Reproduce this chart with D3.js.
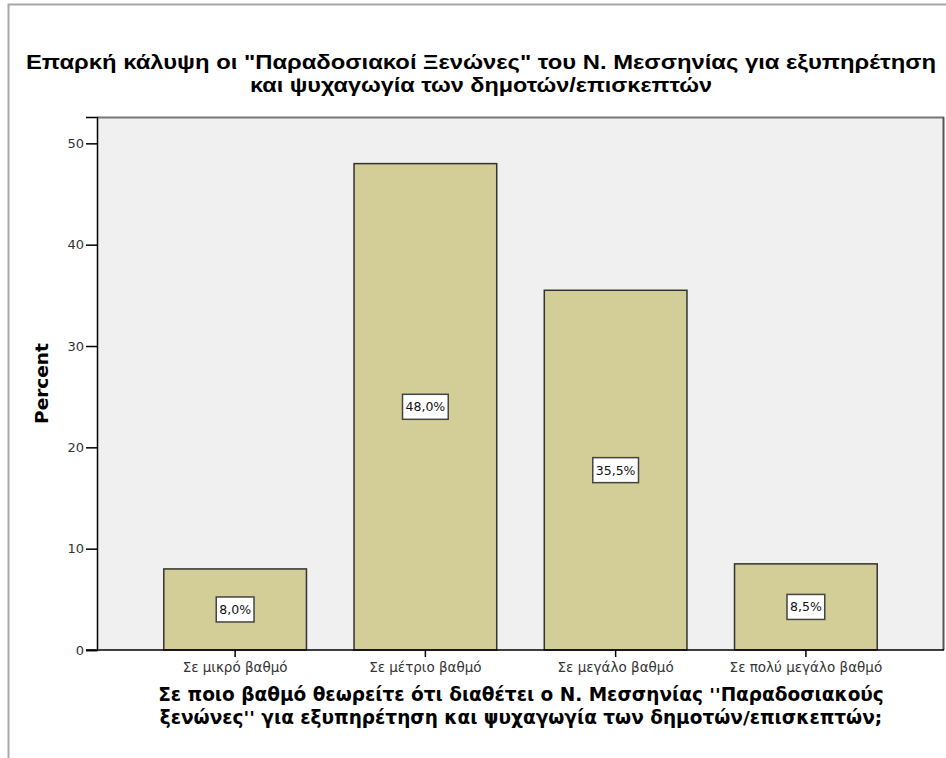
<!DOCTYPE html>
<html lang="el">
<head>
<meta charset="UTF-8">
<title>Παραδοσιακοί Ξενώνες</title>
<script src="https://d3js.org/d3.v7.min.js"></script>
<style>
  body { margin: 0; background: #fff; }
  .tick text { fill: #333; }
</style>
</head>
<body>
<svg width="946" height="758"></svg>
<script>
const categories = ["Σε μικρό βαθμό", "Σε μέτριο βαθμό", "Σε μεγάλο βαθμό", "Σε πολύ μεγάλο βαθμό"];
const percents = [8.0, 48.0, 35.5, 8.5];
const yTicks = [0, 10, 20, 30, 40, 50];
const titleLines = [
  "Επαρκή κάλυψη οι \"Παραδοσιακοί Ξενώνες\" του Ν. Μεσσηνίας για εξυπηρέτηση",
  "και ψυχαγωγία των δημοτών/επισκεπτών"
];
const xTitleLines = [
  "Σε ποιο βαθμό θεωρείτε ότι διαθέτει ο Ν. Μεσσηνίας ''Παραδοσιακούς",
  "ξενώνες'' για εξυπηρέτηση και ψυχαγωγία των δημοτών/επισκεπτών;"
];

const data = categories.map((c, i) => ({ cat: c, value: percents[i] }));

const svg = d3.select("svg");
const plot = { left: 97, right: 944, top: 117, bottom: 650 };

// outer frame
svg.append("rect")
  .attr("x", 8.5).attr("y", 4.5)
  .attr("width", 1000).attr("height", 1000)
  .attr("fill", "none").attr("stroke", "#a8a8a8").attr("stroke-width", 2);

const x = d3.scaleBand()
  .domain(categories)
  .range([plot.left + 43, plot.right - 43])
  .paddingInner(0.25)
  .paddingOuter(0.125);

const y = d3.scaleLinear()
  .domain([0, 52.6])
  .range([plot.bottom, plot.top]);

// plot background
svg.append("rect")
  .attr("x", plot.left).attr("y", plot.top)
  .attr("width", plot.right - plot.left).attr("height", plot.bottom - plot.top)
  .attr("fill", "#f0f0f0");
svg.append("line")
  .attr("x1", plot.left).attr("x2", plot.right)
  .attr("y1", plot.top + 0.5).attr("y2", plot.top + 0.5)
  .attr("stroke", "#777").attr("stroke-width", 2);
svg.append("line")
  .attr("x1", plot.right - 0.5).attr("x2", plot.right - 0.5)
  .attr("y1", plot.top).attr("y2", plot.bottom)
  .attr("stroke", "#555").attr("stroke-width", 2);

// bars
svg.append("g").selectAll("rect")
  .data(data)
  .join("rect")
  .attr("x", d => x(d.cat))
  .attr("y", d => y(d.value))
  .attr("width", x.bandwidth())
  .attr("height", d => y(0) - y(d.value))
  .attr("fill", "#d3ce97")
  .attr("stroke", "#333")
  .attr("stroke-width", 1.5);

// axes
const yAxis = svg.append("g")
  .attr("transform", `translate(${plot.left},0)`)
  .call(d3.axisLeft(y).tickValues(yTicks).tickSize(11).tickPadding(2).tickFormat(d3.format("d")));
yAxis.select(".domain").attr("stroke", "#000").attr("stroke-width", 1.5);
yAxis.selectAll(".tick line").attr("stroke", "#000").attr("stroke-width", 1.5);
yAxis.selectAll(".tick text")
  .style("font-family", "DejaVu Sans, sans-serif")
  .style("font-size", "13px");

const xAxis = svg.append("g")
  .attr("transform", `translate(0,${plot.bottom})`)
  .call(d3.axisBottom(x).tickSize(7).tickPadding(5).tickSizeOuter(0));
xAxis.select(".domain")
  .attr("d", `M${plot.left - 11},0H${plot.right}`)
  .attr("stroke", "#000").attr("stroke-width", 1.5);
xAxis.selectAll(".tick line").attr("stroke", "#000").attr("stroke-width", 1.5);
xAxis.selectAll(".tick text")
  .style("font-family", "DejaVu Sans, sans-serif")
  .style("font-size", "13.5px");

// value labels
const labels = svg.append("g").selectAll("g")
  .data(data)
  .join("g")
  .attr("transform", d => `translate(${x(d.cat) + x.bandwidth() / 2},${y(d.value / 2)})`);
labels.append("text")
  .attr("text-anchor", "middle")
  .attr("dy", "0.36em")
  .style("font-family", "DejaVu Sans, sans-serif")
  .style("font-size", "12.5px")
  .attr("fill", "#111")
  .text(d => d3.format(".1f")(d.value).replace(".", ",") + "%");
labels.each(function () {
  const g = d3.select(this);
  const w = g.select("text").node().getComputedTextLength();
  g.insert("rect", "text")
    .attr("x", -w / 2 - 3).attr("y", -12.5)
    .attr("width", w + 6).attr("height", 25)
    .attr("fill", "#fff").attr("stroke", "#444").attr("stroke-width", 1.5);
});

// chart title
const titleWidths = [910, 462];
svg.append("text")
  .attr("text-anchor", "middle")
  .style("font-family", "Liberation Sans, Arial, sans-serif")
  .style("font-weight", "bold")
  .style("font-size", "20.5px")
  .selectAll("tspan")
  .data(titleLines)
  .join("tspan")
  .attr("x", 481)
  .attr("y", (d, i) => 69 + i * 23)
  .attr("textLength", (d, i) => titleWidths[i])
  .attr("lengthAdjust", "spacingAndGlyphs")
  .text(d => d);

// y title
svg.append("text")
  .attr("transform", `translate(48,${(plot.top + plot.bottom) / 2}) rotate(-90)`)
  .attr("text-anchor", "middle")
  .style("font-family", "DejaVu Sans, sans-serif")
  .style("font-weight", "bold")
  .style("font-size", "18.5px")
  .text("Percent");

// x title
svg.append("text")
  .attr("text-anchor", "middle")
  .style("font-family", "DejaVu Sans, sans-serif")
  .style("font-weight", "bold")
  .style("font-size", "18.5px")
  .selectAll("tspan")
  .data(xTitleLines)
  .join("tspan")
  .attr("x", 521)
  .attr("y", (d, i) => 701 + i * 23)
  .text(d => d);
</script>
</body>
</html>
